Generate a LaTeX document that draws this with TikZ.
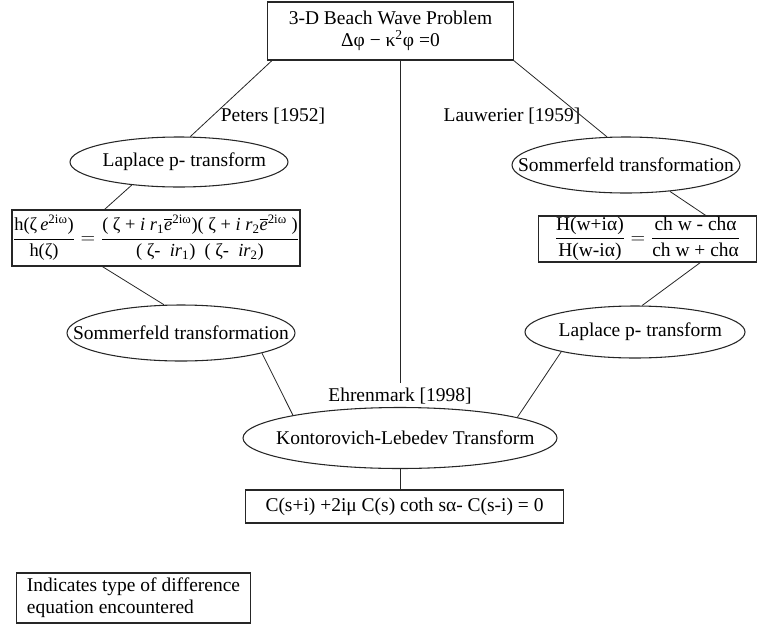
\documentclass[tikz,border=0pt]{standalone}
\usepackage{amsmath}
\usepackage{fontspec}
\setmainfont{Liberation Serif}
\usepackage{tikz}
\usetikzlibrary{shapes.geometric}

\begin{document}
\begin{tikzpicture}[
  x=0.75pt,
  y=-0.75pt,
  every node/.style={font=\fontsize{14.6}{16.5}\selectfont},
  box/.style={draw=black!85, line width=0.8pt, inner sep=0pt, align=center},
  oval/.style={draw=black!85, ellipse, line width=0.8pt, inner sep=0pt,
    execute at begin node={\hbox to 0pt\bgroup\hss\hskip 8pt},
    execute at end node={\hss\egroup}},
  link/.style={line width=0.6pt, color=black!85}
]
  \useasboundingbox (0,0) rectangle (760,625);

  \node[box, minimum width=184pt, minimum height=43.5pt] (problem) at (390.5,31) {3-D Beach Wave Problem\\Δφ − κ\textsuperscript{2}φ =0};

  % left branch
  \node (peters) at (273,116) {Peters [1952]};
  \node[oval, minimum width=163.5pt, minimum height=37.5pt] (laplaceL) at (179,162) {Laplace p- transform};
  \node[box, minimum width=216pt, minimum height=42pt, font=\fontsize{13.8}{16}\selectfont] (eqnL) at (156,238) {$\dfrac{\text{h(ζ\,\textit{e}\textsuperscript{2iω})}}{\text{h(ζ)}} = \dfrac{\text{( ζ + \textit{i r}\textsubscript{1}$\overline{\text{\textit{e}}}$\textsuperscript{2iω})( ζ + \textit{i r}\textsubscript{2}$\overline{\text{\textit{e}}}$\textsuperscript{2iω} )}}{\text{( ζ-\ \ \textit{ir}\textsubscript{1})\ \ ( ζ-\ \ \textit{ir}\textsubscript{2})}}$};
  \node[oval, minimum width=171pt, minimum height=42pt] (sommerL) at (181,333) {\hskip -8pt Sommerfeld transformation};

  % right branch
  \node (lauwerier) at (512,116) {Lauwerier [1959]};
  \node[oval, minimum width=171pt, minimum height=42pt] (sommerR) at (626,165) {\hskip -8pt Sommerfeld transformation};
  \node[box, minimum width=164pt, minimum height=34.5pt] (eqnR) at (647.5,239) {$\dfrac{\text{H(w+iα)}}{\text{H(w-iα)}} = \dfrac{\text{ch w - chα}}{\text{ch w + chα}}$};
  \node[oval, minimum width=165pt, minimum height=39pt] (laplaceR) at (635,332) {Laplace p- transform};

  % middle
  \node (ehrenmark) at (400,396) {Ehrenmark [1998]};
  \node[oval, minimum width=235.5pt, minimum height=45.75pt] (kontorovich) at (400,438) {Kontorovich-Lebedev Transform};
  \node[box, minimum width=238pt, minimum height=24.75pt] (result) at (404.5,506.5) {C(s+i) +2iμ C(s) coth sα- C(s-i) = 0};

  \node[box, minimum width=176pt, minimum height=37.5pt, align=left] (legend) at (133.5,598) {Indicates type of difference\\equation encountered};

  \draw[link] (problem.194) -- (laplaceL.66);
  \draw[link] (problem.south east) -- (sommerR.124);
  \draw[link] (ehrenmark.north) -- (ehrenmark.north |- problem.south);
  \draw[link] (laplaceL.206) -- (eqnL.151);
  \draw[link] (eqnL.208) -- (sommerL.121);
  \draw[link] (sommerL.346) -- (kontorovich.168);
  \draw[link] (sommerR.329) -- (eqnR.22);
  \draw[link] (eqnR.336) -- (laplaceR.75);
  \draw[link] (laplaceR.195) -- (kontorovich.10);
  \draw[link] (kontorovich.south) -- (kontorovich.south |- result.north);
\end{tikzpicture}
\end{document}
